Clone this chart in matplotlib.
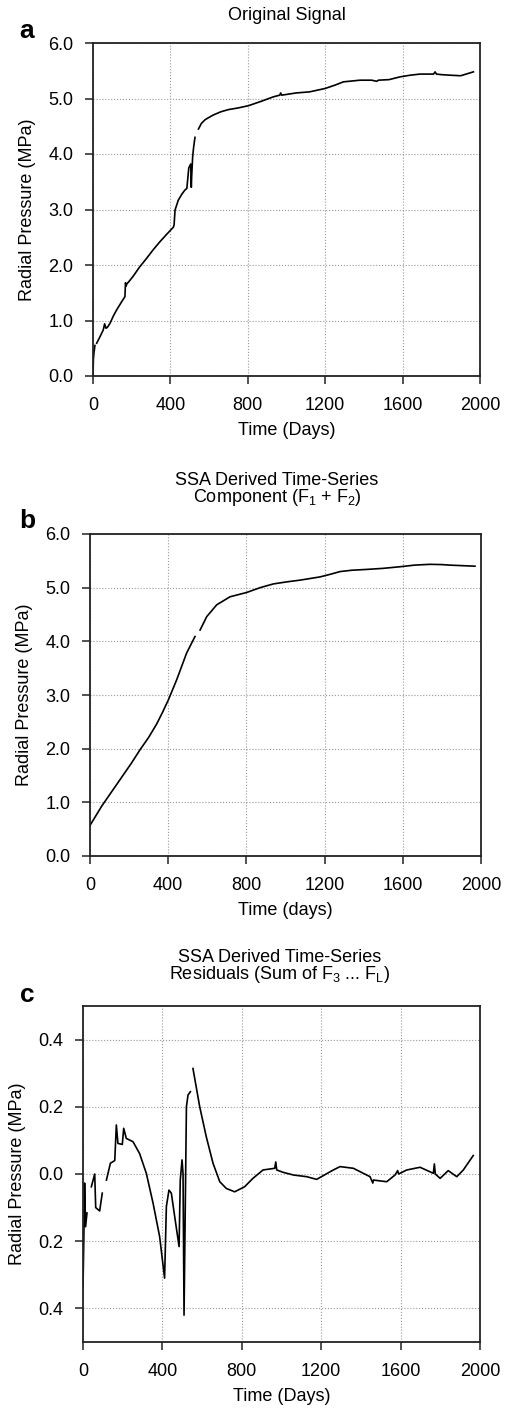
import numpy as np
import matplotlib
matplotlib.use("Agg")
import matplotlib.pyplot as plt

plt.rcParams['font.family'] = ['Liberation Sans', 'DejaVu Sans']
plt.rcParams['mathtext.fontset'] = 'custom'
plt.rcParams['mathtext.rm'] = 'Liberation Sans'
plt.rcParams['mathtext.default'] = 'regular'

nan = np.nan

# Panel a: original signal (days, MPa)
orig_days = [0, 2, 5, 10, 14, 19, 35, 53, 60, 67, 75, 88, 105, 122, 145, 165, 168, 171, 175,
             190, 208, 240, 277, 310, 346, 380, 415, 419, 424, 441, 460, 475, 485, 495, 505, 508,
             510, 515, 520, 527, 535, 545, 560, 580, 620, 660, 700, 750, 803, 870, 932, 965, 970,
             975, 1050, 1120, 1199, 1250, 1294, 1380, 1440, 1466, 1475, 1530, 1587, 1640, 1690,
             1760, 1768, 1775, 1800, 1845, 1900, 1966]
orig_vals = [0.0, 0.3, 0.42, 0.55, nan, 0.59, 0.70, 0.83, 0.94, 0.86, 0.88, 0.95, 1.08, 1.19, 1.32,
             1.43, 1.68, 1.62, 1.66, 1.72, 1.80, 1.96, 2.12, 2.27, 2.42, 2.55, 2.68, 2.72, 2.99,
             3.17, 3.28, 3.35, 3.38, 3.75, 3.82, 3.40, 3.60, 3.95, 4.12, 4.30, nan, 4.45, 4.55,
             4.62, 4.70, 4.76, 4.80, 4.83, 4.87, 4.95, 5.03, 5.06, 5.10, 5.06, 5.10, 5.12, 5.18,
             5.24, 5.30, 5.33, 5.33, 5.31, 5.33, 5.34, 5.39, 5.42, 5.44, 5.44, 5.48, 5.44, 5.43,
             5.42, 5.41, 5.48]

# Panel b: SSA component F1 + F2
comp_days = [0, 60, 153, 210, 256, 300, 341, 370, 401, 443, 494, 537, 550, 563, 597, 648, 716,
             801, 870, 938, 1010, 1074, 1176, 1230, 1279, 1340, 1415, 1500, 1586, 1660, 1739,
             1800, 1841, 1969]
comp_vals = [0.57, 0.93, 1.42, 1.72, 1.98, 2.21, 2.46, 2.67, 2.91, 3.28, 3.78, 4.09, nan, 4.21,
             4.46, 4.68, 4.83, 4.91, 5.00, 5.07, 5.11, 5.14, 5.20, 5.25, 5.30, 5.325, 5.34, 5.36,
             5.39, 5.42, 5.435, 5.43, 5.42, 5.40]

# Panel c: SSA residuals (sum of F3 ... FL)
res_days = [0, 4, 8, 13, 20, 30, 42, 59, 64, 84, 97, 108, 118, 138, 160, 168, 176, 198, 205, 218,
            252, 285, 319, 353, 386, 411, 420, 433, 445, 462, 484, 490, 499, 504, 509, 521, 529,
            541, 547, 554, 588, 621, 655, 689, 722, 764, 814, 856, 907, 966, 971, 976, 1008, 1060,
            1127, 1177, 1261, 1295, 1362, 1446, 1460, 1463, 1530, 1572, 1585, 1590, 1631, 1698,
            1765, 1770, 1775, 1799, 1840, 1883, 1916, 1966]
res_vals = [-0.335, -0.20, -0.027, -0.157, -0.116, nan, -0.038, 0.0, -0.10, -0.11, -0.057, nan,
            -0.018, 0.032, 0.04, 0.146, 0.091, 0.088, 0.136, 0.106, 0.096, 0.061, 0.002, -0.087,
            -0.186, -0.31, -0.097, -0.048, -0.057, -0.127, -0.216, -0.018, 0.042, 0.0, -0.42,
            0.20, 0.235, 0.245, nan, 0.314, 0.20, 0.111, 0.032, -0.023, -0.043, -0.053, -0.038,
            -0.013, 0.012, 0.017, 0.036, 0.012, 0.005, -0.003, -0.008, -0.016, 0.012, 0.022,
            0.017, -0.008, -0.027, -0.018, -0.023, -0.003, 0.01, 0.0, 0.012, 0.02, 0.002, 0.03,
            0.0, -0.013, 0.01, -0.008, 0.012, 0.055]

xticks = [0, 400, 800, 1200, 1600, 2000]
yticks_ab = [0, 1, 2, 3, 4, 5, 6]
yticks_c = [-0.4, -0.2, 0.0, 0.2, 0.4]
yticklabels_c = ['0.4', '0.2', '0.0', '0.2', '0.4']

FS = 13
W, H = 513, 1409
fig = plt.figure(figsize=(W / 100, H / 100), dpi=100)


def make_ax(left, top, right, bottom):
    return fig.add_axes([left / W, 1 - bottom / H, (right - left) / W, (bottom - top) / H])


def style(ax):
    for s in ax.spines.values():
        s.set_linewidth(1.3)
        s.set_color('#222222')
    ax.tick_params(direction='out', length=6, width=1.1, labelsize=FS, colors='#222222',
                   labelcolor='black')
    ax.tick_params(axis='x', pad=9)
    ax.tick_params(axis='y', pad=8)
    ax.grid(True, linestyle=':', color='#999999', linewidth=0.8)
    ax.set_axisbelow(True)
    ax.set_xlim(0, 2000)
    ax.set_xticks(xticks)
    ax.set_xticklabels([str(t) for t in xticks])


# Panel a
ax1 = make_ax(93, 43, 480, 376)
style(ax1)
ax1.plot(orig_days, orig_vals, color='black', lw=1.2)
ax1.set_ylim(0, 6)
ax1.set_yticks(yticks_ab)
ax1.set_yticklabels([f"{t:.1f}" for t in yticks_ab])
ax1.set_xlabel('Time (Days)', fontsize=FS, labelpad=6)
ax1.set_ylabel('Radial Pressure (MPa)', fontsize=FS, labelpad=9)
fig.text(287 / W, 1 - 15 / H, 'Original Signal', ha='center', va='center', fontsize=FS)
fig.text(27 / W, 1 - 31 / H, 'a', ha='center', va='center', fontsize=19, fontweight='bold')

# Panel b
ax2 = make_ax(90, 534, 481, 856)
style(ax2)
ax2.plot(comp_days, comp_vals, color='black', lw=1.2)
ax2.set_ylim(0, 6)
ax2.set_yticks(yticks_ab)
ax2.set_yticklabels([f"{t:.1f}" for t in yticks_ab])
ax2.set_xlabel('Time (days)', fontsize=FS, labelpad=6)
ax2.set_ylabel('Radial Pressure (MPa)', fontsize=FS, labelpad=9)
fig.text(277 / W, 1 - 490 / H, 'SSA Derived Time-Series\nComponent (F$_1$ + F$_2$)',
         ha='center', va='center', fontsize=FS, linespacing=0.9)
fig.text(27 / W, 1 - 521 / H, 'b', ha='center', va='center', fontsize=19, fontweight='bold')

# Panel c
ax3 = make_ax(83, 1006, 480, 1342)
style(ax3)
ax3.plot(res_days, res_vals, color='black', lw=1.2)
ax3.set_ylim(-0.5, 0.5)
ax3.set_yticks(yticks_c)
ax3.set_yticklabels(yticklabels_c)
ax3.set_xlabel('Time (Days)', fontsize=FS, labelpad=6)
ax3.set_ylabel('Radial Pressure (MPa)', fontsize=FS, labelpad=9)
fig.text(280 / W, 1 - 967 / H, 'SSA Derived Time-Series\nResiduals (Sum of F$_3$ ... F$_L$)',
         ha='center', va='center', fontsize=FS, linespacing=0.9)
fig.text(27 / W, 1 - 995 / H, 'c', ha='center', va='center', fontsize=19, fontweight='bold')

fig.savefig('out.png', dpi=100)
